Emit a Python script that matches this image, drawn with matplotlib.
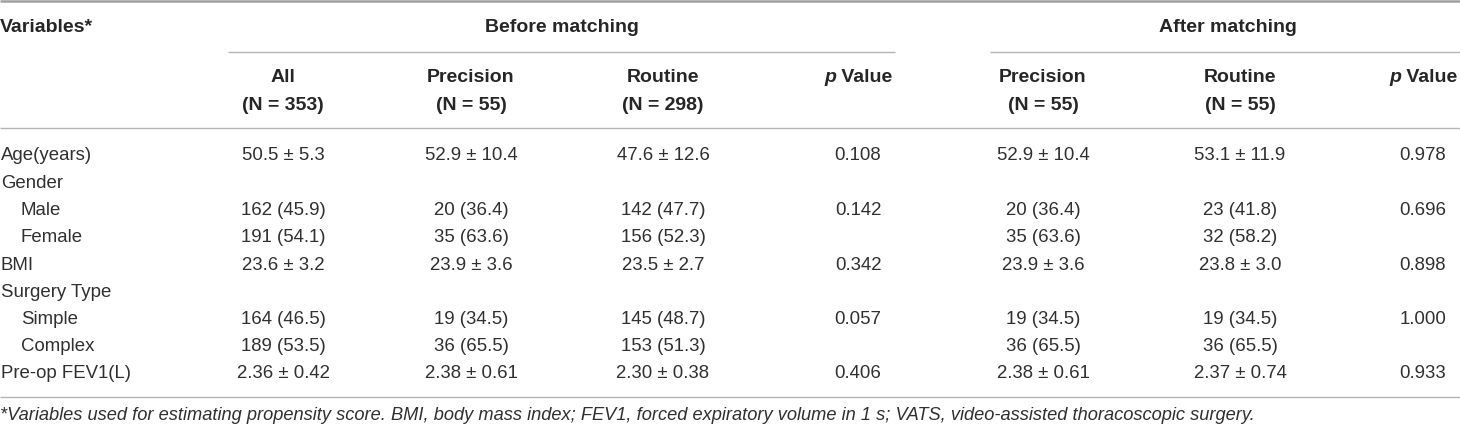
import matplotlib
matplotlib.use("Agg")
import matplotlib.pyplot as plt

plt.rcParams['font.family'] = ['Liberation Sans', 'DejaVu Sans']

# ---- data ----
row_labels = ["Age(years)", "Gender", "Male", "Female", "BMI", "Surgery Type",
              "Simple", "Complex", "Pre-op FEV1(L)"]
row_indent = [0, 0, 1, 1, 0, 0, 1, 1, 0]
all_vals = ["50.5 ± 5.3", "", "162 (45.9)", "191 (54.1)", "23.6 ± 3.2", "",
            "164 (46.5)", "189 (53.5)", "2.36 ± 0.42"]
prec_before = ["52.9 ± 10.4", "", "20 (36.4)", "35 (63.6)", "23.9 ± 3.6", "",
               "19 (34.5)", "36 (65.5)", "2.38 ± 0.61"]
rout_before = ["47.6 ± 12.6", "", "142 (47.7)", "156 (52.3)", "23.5 ± 2.7", "",
               "145 (48.7)", "153 (51.3)", "2.30 ± 0.38"]
p_before = ["0.108", "", "0.142", "", "0.342", "", "0.057", "", "0.406"]
prec_after = ["52.9 ± 10.4", "", "20 (36.4)", "35 (63.6)", "23.9 ± 3.6", "",
              "19 (34.5)", "36 (65.5)", "2.38 ± 0.61"]
rout_after = ["53.1 ± 11.9", "", "23 (41.8)", "32 (58.2)", "23.8 ± 3.0", "",
              "19 (34.5)", "36 (65.5)", "2.37 ± 0.74"]
p_after = ["0.978", "", "0.696", "", "0.898", "", "1.000", "", "0.933"]

col_titles = ["All", "Precision", "Routine", "p Value", "Precision", "Routine", "p Value"]
col_n = ["(N = 353)", "(N = 55)", "(N = 298)", "", "(N = 55)", "(N = 55)", ""]
group_titles = ["Before matching", "After matching"]
footnote = ("*Variables used for estimating propensity score. BMI, body mass index; "
            "FEV1, forced expiratory volume in 1 s; VATS, video-assisted thoracoscopic surgery.")

# ---- layout ----
W, H = 1460, 428
fig = plt.figure(figsize=(W / 100, H / 100), dpi=100)
ax = fig.add_axes([0, 0, 1, 1])
ax.set_xlim(0, W)
ax.set_ylim(H, 0)
ax.axis('off')

txt = '#262626'
body_c = '#303030'
line_c = '#b4b4b4'
fs_h = 14.0
fs = 13.4
fs_f = 13.15
col_x = [283, 471, 663, 858, 1043, 1240, 1423]
group_x = [562, 1228]
row_y0, row_dy = 156, 27.25

fig.canvas.draw()
renderer = fig.canvas.get_renderer()

def width_px(s, **kw):
    t = ax.text(0, 0, s, **kw)
    w = t.get_window_extent(renderer).width
    t.remove()
    return w

# lines
ax.plot([0, W], [1, 1], color='#a0a0a0', lw=1.8, solid_capstyle='butt')
ax.plot([228, 895], [52, 52], color=line_c, lw=1.0, solid_capstyle='butt')
ax.plot([990, W], [52, 52], color=line_c, lw=1.0, solid_capstyle='butt')
ax.plot([0, W], [128, 128], color=line_c, lw=1.0, solid_capstyle='butt')
ax.plot([0, W], [397, 397], color=line_c, lw=1.0, solid_capstyle='butt')

# header
ax.text(0, 27, "Variables*", fontsize=fs_h, fontweight='bold', color=txt, ha='left', va='center')
for gx, g in zip(group_x, group_titles):
    ax.text(gx, 27, g, fontsize=fs_h, fontweight='bold', color=txt, ha='center', va='center')
for cx, t, n in zip(col_x, col_titles, col_n):
    if t.startswith("p "):
        wp = width_px("p", fontsize=fs_h, fontweight='bold', fontstyle='italic')
        wr = width_px(" Value", fontsize=fs_h, fontweight='bold')
        left = cx - (wp + wr) / 2
        ax.text(left, 77, "p", fontsize=fs_h, fontweight='bold', fontstyle='italic',
                color=txt, ha='left', va='center')
        ax.text(left + wp, 77, " Value", fontsize=fs_h, fontweight='bold',
                color=txt, ha='left', va='center')
    else:
        ax.text(cx, 77, t, fontsize=fs_h, fontweight='bold', color=txt, ha='center', va='center')
    if n:
        ax.text(cx, 105, n, fontsize=fs_h, fontweight='bold', color=txt, ha='center', va='center')

# body
cols = [all_vals, prec_before, rout_before, p_before, prec_after, rout_after, p_after]
for i, lab in enumerate(row_labels):
    y = row_y0 + i * row_dy
    ax.text(1 + 20 * row_indent[i], y, lab, fontsize=fs, color=body_c, ha='left', va='center')
    for cx, col in zip(col_x, cols):
        if col[i]:
            ax.text(cx, y, col[i], fontsize=fs, color=body_c, ha='center', va='center')

ax.text(0, 415, footnote, fontsize=fs_f, fontstyle='italic', color=body_c, ha='left', va='center')

fig.savefig("out.png", dpi=100)
